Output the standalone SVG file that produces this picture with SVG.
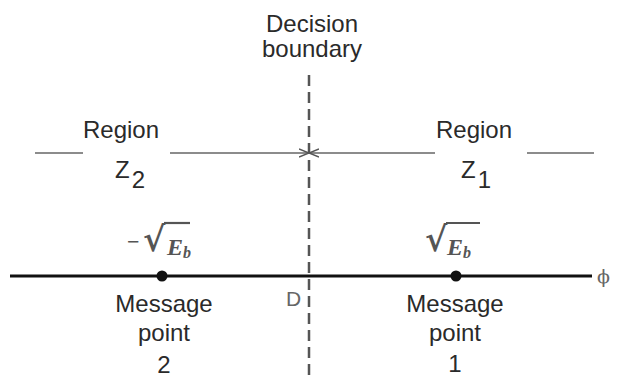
<svg xmlns="http://www.w3.org/2000/svg" width="622" height="379" viewBox="0 0 622 379">
<style>
.t{font-family:"Liberation Sans",Arial,sans-serif;font-size:24px;fill:#2a2a2a;text-anchor:middle}
.z{font-family:"Liberation Sans",Arial,sans-serif;font-size:24px;fill:#2a2a2a}
.m{font-family:"Liberation Serif","Times New Roman",serif;fill:#555;font-weight:bold}
.r{font-family:"DejaVu Serif",serif;fill:#555;font-size:34px;font-weight:bold}
.reg{stroke:#666;stroke-width:1.6;fill:none}
</style>
<defs>
<marker id="ah" viewBox="0 0 10 10" refX="10" refY="5" markerWidth="10" markerHeight="10" markerUnits="userSpaceOnUse" orient="auto">
<path d="M0,1 L10,5 L0,9" fill="none" stroke="#555" stroke-width="1.5"/>
</marker>
</defs>
<rect width="622" height="379" fill="#fff"/>
<g id="connectors">
<line x1="309" y1="75" x2="309" y2="376" stroke="#555" stroke-width="2.5" stroke-dasharray="11,6"/>
<line x1="10" y1="276" x2="592" y2="276" stroke="#111" stroke-width="3"/>
<line class="reg" x1="35" y1="153" x2="83" y2="153"/>
<line class="reg" x1="170" y1="153" x2="309" y2="153" marker-end="url(#ah)"/>
<line class="reg" x1="435" y1="153" x2="309" y2="153" marker-end="url(#ah)"/>
<line class="reg" x1="527" y1="153" x2="594" y2="153"/>
</g>
<g id="decision-boundary">
<text class="t" x="312" y="32">Decision</text>
<text class="t" x="312" y="57">boundary</text>
</g>
<g id="region-z2">
<text class="t" x="121" y="138">Region</text>
<text class="z" x="115" y="178">Z<tspan dx="2" dy="10">2</tspan></text>
</g>
<g id="region-z1">
<text class="t" x="474" y="138">Region</text>
<text class="z" x="461" y="178">Z<tspan dx="2" dy="10">1</tspan></text>
</g>
<g id="message-point-2">
<circle cx="162" cy="276" r="5.5" fill="#111"/>
<text class="m" x="127" y="249" font-size="22">−</text>
<text class="r" x="143" y="251">√</text>
<line x1="164" y1="223" x2="190" y2="223" stroke="#555" stroke-width="2.2"/>
<text class="m" x="167" y="255" font-size="24" font-style="italic">E<tspan font-size="16" dy="3">b</tspan></text>
<text class="t" x="164" y="312">Message</text>
<text class="t" x="164" y="341">point</text>
<text class="t" x="164" y="373">2</text>
</g>
<g id="message-point-1">
<circle cx="456" cy="276" r="5.5" fill="#111"/>
<text class="r" x="425" y="251">√</text>
<line x1="446" y1="223" x2="480" y2="223" stroke="#555" stroke-width="2.2"/>
<text class="m" x="447" y="255" font-size="24" font-style="italic">E<tspan font-size="16" dy="3">b</tspan></text>
<text class="t" x="455" y="312">Message</text>
<text class="t" x="455" y="341">point</text>
<text class="t" x="455" y="372">1</text>
</g>
<g id="labels">
<text x="286" y="306" font-family="Liberation Sans,Arial,sans-serif" font-size="21" fill="#666">D</text>
<text x="597" y="283" font-family="DejaVu Serif,serif" font-size="19" fill="#666">ϕ</text>
</g>
</svg>
